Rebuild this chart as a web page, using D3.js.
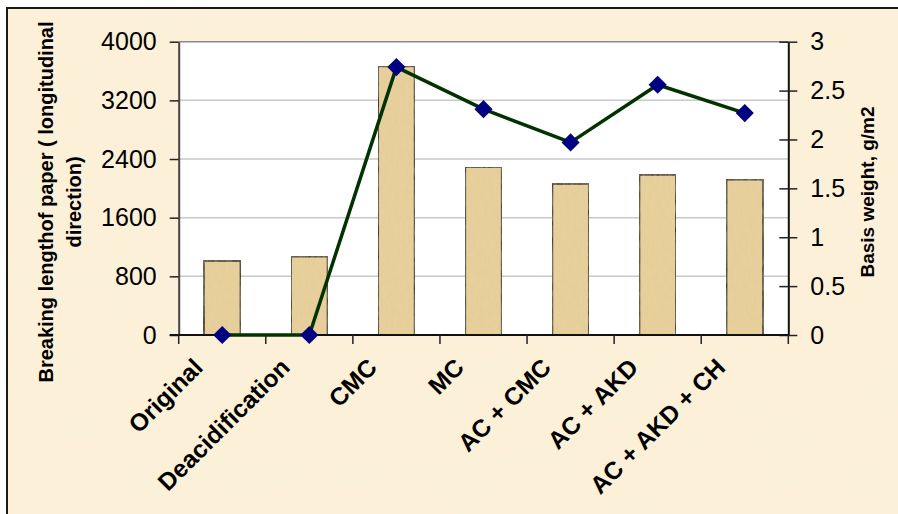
<!DOCTYPE html>
<html>
<head>
<meta charset="utf-8">
<script src="https://cdn.jsdelivr.net/npm/d3@7/dist/d3.min.js"></script>
<style>
  html, body { margin: 0; padding: 0; background: #ffffff; }
  svg { display: block; }
  text { font-family: "Liberation Sans", Arial, sans-serif; fill: #000; }
</style>
</head>
<body>
<svg id="chart" width="898" height="514"></svg>
<script>
// Treatments compared
const categories = ["Original", "Deacidification", "CMC", "MC", "AC + CMC", "AC + AKD", "AC + AKD + CH"];
// Breaking length of paper, longitudinal direction (bars, left axis)
const breakingLength = [1010, 1070, 3665, 2290, 2060, 2185, 2120];
// Basis weight, g/m2 (line, right axis)
const basisWeight = [0, 0, 2.74, 2.31, 1.97, 2.56, 2.27];
// Axis tick values
const leftTicks = [0, 800, 1600, 2400, 3200, 4000];
const rightTicks = [0, 0.5, 1, 1.5, 2, 2.5, 3];

const svg = d3.select("#chart");
const W = 898, H = 514;
const plot = { left: 178.7, right: 788.3, top: 41.7, bottom: 335 };

// Parchment-coloured chart area with a dark frame on the left and top
const defs = svg.append("defs");
const noise = defs.append("filter").attr("id", "paper").attr("x", 0).attr("y", 0).attr("width", 1).attr("height", 1);
noise.append("feTurbulence").attr("type", "fractalNoise").attr("baseFrequency", "0.012 0.02").attr("numOctaves", 3).attr("seed", 4).attr("result", "n");
noise.append("feColorMatrix").attr("in", "n").attr("type", "matrix")
  .attr("values", "0 0 0 0 0.93  0 0 0 0 0.86  0 0 0 0 0.70  0 0 0 0.16 0");

const barTex = defs.append("filter").attr("id", "barTex").attr("x", 0).attr("y", 0).attr("width", 1).attr("height", 1);
barTex.append("feTurbulence").attr("type", "fractalNoise").attr("baseFrequency", "0.35 0.12").attr("numOctaves", 2).attr("seed", 9).attr("result", "n");
barTex.append("feColorMatrix").attr("in", "n").attr("type", "matrix")
  .attr("values", "0 0 0 0 0.80  0 0 0 0 0.68  0 0 0 0 0.45  0 0 0 0.35 0").attr("result", "c");
barTex.append("feComposite").attr("in", "c").attr("in2", "SourceGraphic").attr("operator", "in").attr("result", "t");
barTex.append("feMerge").selectAll("feMergeNode").data(["SourceGraphic", "t"]).join("feMergeNode").attr("in", d => d);

svg.append("rect").attr("x", 6).attr("y", 8).attr("width", W - 6).attr("height", H - 8).attr("fill", "#fcf0d8");
svg.append("rect").attr("x", 6).attr("y", 8).attr("width", W - 6).attr("height", H - 8).attr("filter", "url(#paper)").attr("fill", "#fff");
svg.append("path")
  .attr("d", `M7,${H}V8H${W}`)
  .attr("fill", "none").attr("stroke", "#1a1a1a").attr("stroke-width", 2);

// Scales
const x = d3.scaleBand().domain(categories).range([plot.left, plot.right]).padding(0);
const yL = d3.scaleLinear().domain([0, 4000]).range([plot.bottom, plot.top]);
const yR = d3.scaleLinear().domain([0, 3]).range([plot.bottom, plot.top]);
const barW = x.bandwidth() * 0.42;

// Plot background
svg.append("rect")
  .attr("x", plot.left).attr("y", plot.top)
  .attr("width", plot.right - plot.left).attr("height", plot.bottom - plot.top)
  .attr("fill", "#ffffff");

// Horizontal gridlines
svg.append("g").selectAll("line").data(leftTicks.filter(d => d > 0)).join("line")
  .attr("x1", plot.left).attr("x2", plot.right)
  .attr("y1", d => yL(d)).attr("y2", d => yL(d))
  .attr("stroke", d => d === 4000 ? "#8a8a8a" : "#c8c8c8").attr("stroke-width", 1.5);

// Bars
svg.append("g").selectAll("rect").data(categories).join("rect")
  .attr("x", (d) => x(d) + (x.bandwidth() - barW) / 2)
  .attr("y", (d, i) => yL(breakingLength[i]))
  .attr("width", barW)
  .attr("height", (d, i) => yL(0) - yL(breakingLength[i]))
  .attr("fill", "#e6cd95")
  .attr("filter", "url(#barTex)")
  .attr("stroke", "#111").attr("stroke-width", 1.8);

// Left axis
const gL = svg.append("g").attr("transform", `translate(${plot.left},0)`)
  .call(d3.axisLeft(yL).tickValues(leftTicks).tickSize(9).tickSizeOuter(0).tickPadding(13).tickFormat(d3.format("d")));
gL.select(".domain").attr("stroke", "#444").attr("stroke-width", 2);
gL.selectAll(".tick line").attr("stroke", "#222").attr("stroke-width", 1.5);
gL.selectAll(".tick text").attr("font-size", 25).attr("font-family", "Liberation Sans, Arial, sans-serif").attr("fill", "#000");

// Right axis with ticks crossing the axis line
const gR = svg.append("g").attr("transform", `translate(${plot.right},0)`)
  .call(d3.axisRight(yR).tickValues(rightTicks).tickSize(9).tickSizeOuter(0).tickPadding(13).tickFormat(d => d3.format("")(d)));
gR.select(".domain").attr("stroke", "#111").attr("stroke-width", 2);
gR.selectAll(".tick line").attr("x1", -9).attr("stroke", "#222").attr("stroke-width", 1.5);
gR.selectAll(".tick text").attr("font-size", 25).attr("font-family", "Liberation Sans, Arial, sans-serif").attr("fill", "#000");

// Bottom axis: ticks at category boundaries, rotated labels
const bounds = categories.map(c => x(c)).concat([plot.right]);
svg.append("line").attr("x1", plot.left - 9).attr("x2", plot.right)
  .attr("y1", plot.bottom).attr("y2", plot.bottom).attr("stroke", "#111").attr("stroke-width", 2);
svg.append("g").selectAll("line").data(bounds).join("line")
  .attr("x1", d => d).attr("x2", d => d)
  .attr("y1", plot.bottom).attr("y2", plot.bottom + 9)
  .attr("stroke", "#222").attr("stroke-width", 1.5);

svg.append("g").selectAll("text").data(categories).join("text")
  .attr("transform", d => `translate(${x(d) + x.bandwidth() / 2 - 18},${plot.bottom + 34}) rotate(-45)`)
  .attr("text-anchor", "end")
  .attr("font-size", 24.5).attr("font-weight", "bold")
  .text(d => d);

// Basis weight line with diamond markers
const line = d3.line()
  .x((d, i) => x(categories[i]) + x.bandwidth() / 2)
  .y(d => yR(d));
svg.append("path").datum(basisWeight)
  .attr("d", line)
  .attr("fill", "none").attr("stroke", "#003300").attr("stroke-width", 3.5).attr("stroke-linejoin", "round");

const diamond = d3.symbol().type(d3.symbolSquare).size(165);
svg.append("g").selectAll("path").data(basisWeight).join("path")
  .attr("d", diamond)
  .attr("transform", (d, i) => `translate(${x(categories[i]) + x.bandwidth() / 2},${yR(d)}) rotate(45)`)
  .attr("fill", "#000080");

// Axis titles
const titleL = svg.append("text")
  .attr("transform", `translate(53,202) rotate(-90)`)
  .attr("text-anchor", "middle").attr("font-size", 20).attr("font-weight", "bold");
titleL.append("tspan").attr("x", 0).attr("dy", 0).text("Breaking lengthof paper ( longitudinal");
titleL.append("tspan").attr("x", 0).attr("dy", 27.5).text("direction)");

svg.append("text")
  .attr("transform", `translate(874,192) rotate(-90)`)
  .attr("text-anchor", "middle").attr("font-size", 19).attr("font-weight", "bold")
  .text("Basis weight, g/m2");
</script>
</body>
</html>
